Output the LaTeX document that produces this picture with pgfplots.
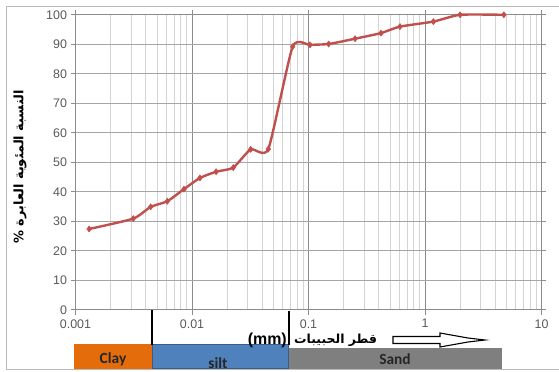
\documentclass[border=0pt]{standalone}
\usepackage{fontspec}
\setmainfont{Liberation Sans}
\newfontfamily\calibri{Carlito}
\newfontfamily\arabicfont[Script=Arabic]{DejaVu Sans}
\TeXXeTstate=1
\usepackage{pgfplots}
\pgfplotsset{compat=1.18}

\definecolor{curve}{RGB}{192,80,77}
\definecolor{ticktext}{RGB}{89,89,89}
\definecolor{decadegrid}{RGB}{140,140,140}
\definecolor{majgrid}{RGB}{165,165,165}
\definecolor{mingrid}{RGB}{212,212,212}
\definecolor{frame}{RGB}{185,185,185}
\definecolor{clayc}{RGB}{228,108,10}
\definecolor{siltc}{RGB}{79,129,189}
\definecolor{siltedge}{RGB}{56,93,138}
\definecolor{sandc}{RGB}{127,127,127}
\definecolor{boxtext}{RGB}{38,38,38}

% grain-size distribution (diameter in mm, percent passing)
\pgfplotstableread{
d        p
0.00131  27.4
0.00313  30.9
0.00442  34.9
0.00614  36.8
0.00853  40.9
0.0117   44.7
0.0161   46.8
0.0226   48.2
0.0319   54.4
0.0452   54.5
0.0731   89.2
0.103    89.8
0.149    90.1
0.251    91.9
0.419    93.8
0.61     96.0
1.18     97.7
2.0      100
4.75     100
}\gradation

\begin{document}
\begin{tikzpicture}[x=1bp,y=1bp]
\useasboundingbox (0,0) rectangle (559,371);
% chart frame
\draw[frame, line width=0.8bp] (6,365) -- (559,365);
\draw[frame, line width=0.8bp] (6,365) -- (6,2);
\draw[frame, line width=0.8bp] (6,2) -- (559,2);

\begin{axis}[
  at={(75.5bp,61.2bp)}, anchor=south west,
  scale only axis, width=466bp, height=295bp,
  xmode=log, xmin=0.001, xmax=10, ymin=0, ymax=100,
  xtick={0.001,0.01,0.1,1,10},
  xticklabels={0.001,0.01,0.1,1,10},
  minor xtick={0.002,0.003,0.004,0.005,0.006,0.007,0.008,0.009,
               0.02,0.03,0.04,0.05,0.06,0.07,0.08,0.09,
               0.2,0.3,0.4,0.5,0.6,0.7,0.8,0.9,
               2,3,4,5,6,7,8,9},
  ytick={0,10,...,100},
  grid=both,
  major x grid style={decadegrid, line width=0.8bp},
  major y grid style={majgrid, line width=0.8bp},
  minor x grid style={mingrid, line width=0.8bp},
  axis line style={decadegrid, line width=0.8bp},
  tick align=outside, major tick length=5bp, minor tick length=0pt,
  tick style={decadegrid, line width=0.8bp},
  /pgf/number format/assume math mode=true,
  ticklabel style={font=\fontsize{12.5}{14}\selectfont, text=ticktext},
  xticklabel style={yshift=-1bp},
  clip=false,
]
\addplot[curve, line width=2.4bp, smooth, tension=0.33,
  mark=diamond*, mark size=3bp, mark options={fill=curve, draw=curve, line width=0.6bp}]
  table[x=d, y=p] {\gradation};
\end{axis}

% soil class bands under the axis
\fill[clayc] (74.3,2) rectangle (152.3,26.7);
\filldraw[fill=siltc, draw=siltedge, line width=1bp] (152.3,2.5) rectangle (288.7,26.7);
\fill[sandc] (288.5,2) rectangle (501.7,23.3);
\draw[black, line width=2bp] (152.3,61) -- (152.3,26);
\draw[black, line width=2bp] (288.7,60) -- (288.7,26);
\node[font=\calibri\bfseries\fontsize{15.5}{16}\selectfont, text=boxtext] at (113,12) {Clay};
\node[font=\calibri\bfseries\fontsize{15.5}{16}\selectfont, text=boxtext] at (218,8) {silt};
\node[font=\calibri\bfseries\fontsize{15.5}{16}\selectfont, text=boxtext] at (395,12) {Sand};

% axis titles
\node[anchor=base east, font=\bfseries\fontsize{16}{18}\selectfont, inner sep=0pt] at (287,27) {(mm)};
\node[anchor=base west, font=\arabicfont\bfseries\fontsize{12.5}{14}\selectfont, inner sep=0pt] at (294,28) {\beginR قطر الحبيبات\endR};
\draw[black, fill=white, line width=1.1bp]
  (393,34.5) -- (440,34.5) -- (440,38) -- (468,33) -- (485,31) -- (468,29)
  -- (440,24) -- (440,27.5) -- (393,27.5) -- cycle;
\node[rotate=90, font=\arabicfont\bfseries\fontsize{13}{14}\selectfont] at (20,204) {\beginR النسبة المئوية العابرة \%\endR};
\end{tikzpicture}
\end{document}
